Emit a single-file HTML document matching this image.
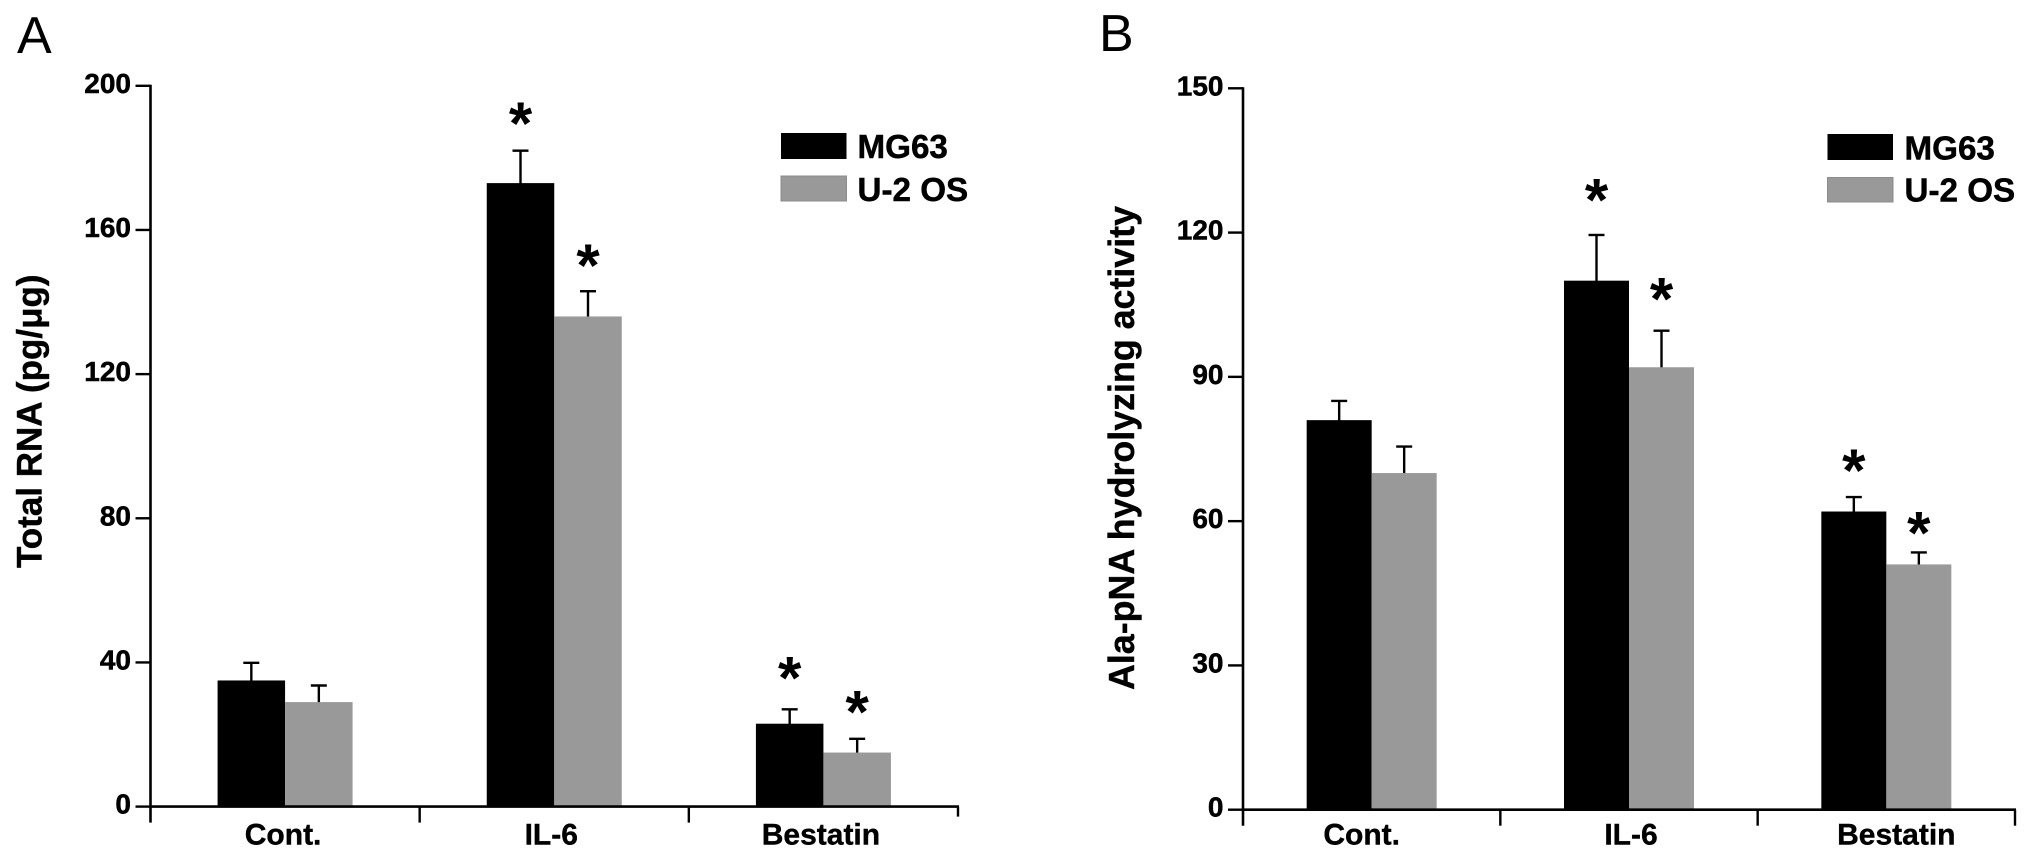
<!DOCTYPE html>
<html lang="en">
<head>
<meta charset="utf-8">
<title>Total RNA and Ala-pNA hydrolyzing activity</title>
<style>
html,body{margin:0;padding:0;background:#fff;width:2030px;height:859px;overflow:hidden}
svg{display:block}
text{font-family:"Liberation Sans",Arial,sans-serif;fill:#000}
.b{font-weight:700;stroke:#000;stroke-width:.4px}
.tick{font-size:28px;font-weight:700;text-anchor:end;stroke:#000;stroke-width:.5px}
.cat{font-size:30px;font-weight:700;text-anchor:middle;stroke:#000;stroke-width:.4px}
.leg{font-size:33.2px;font-weight:700;stroke:#000;stroke-width:.5px}
.star{font-size:60px;font-weight:700;text-anchor:middle}
.ltr{font-size:52px}
</style>
</head>
<body>
<svg id="fig" width="2030" height="859" viewBox="0 0 2030 859" xmlns="http://www.w3.org/2000/svg">
  <rect width="2030" height="859" fill="#fff"/>
  <text class="ltr" x="17" y="53">A</text>
  <text class="ltr" x="1099" y="51">B</text>
  <text class="b" font-size="35" transform="translate(41.5 568) rotate(-90)">Total RNA (pg/μg)</text>
  <text class="b" font-size="35.8" transform="translate(1134 690) rotate(-90)">Ala-pNA hydrolyzing activity</text>

  <g>
    <rect x="781" y="133" width="65.5" height="26" fill="#000"/>
    <text class="leg" x="857.5" y="158">MG63</text>
    <rect x="781" y="176" width="65.5" height="25" fill="#999" stroke="#8c8c8c"/>
    <text class="leg" x="857.5" y="201">U-2 OS</text>
  </g>
  <g>
    <rect x="1827.5" y="134" width="65.5" height="26" fill="#000"/>
    <text class="leg" x="1904.5" y="159.5">MG63</text>
    <rect x="1827.5" y="177.5" width="65.5" height="24.5" fill="#999" stroke="#8c8c8c"/>
    <text class="leg" x="1904.5" y="201.5">U-2 OS</text>
  </g>
</svg>
<script>
// Shared categories
const categories = ["Cont.", "IL-6", "Bestatin"];

// Panel A: Total RNA (pg/ug)
const aTicks = [0, 40, 80, 120, 160, 200];
const aMg63 = [35, 173, 23];
const aMg63Err = [4.9, 9, 4];
const aMg63Star = [null, 9.6, 10.8];
const aU2os = [29, 136, 15];
const aU2osErr = [4.6, 7, 3.8];
const aU2osStar = [null, 9.2, 9.5];

// Panel B: Ala-pNA hydrolyzing activity
const bTicks = [0, 30, 60, 90, 120, 150];
const bMg63 = [81, 110, 62];
const bMg63Err = [4, 9.5, 3];
const bMg63Star = [null, 8.8, 7.1];
const bU2os = [70, 92, 51];
const bU2osErr = [5.5, 7.6, 2.5];
const bU2osStar = [null, 8.1, 5.6];

const NS = "http://www.w3.org/2000/svg";
const fig = document.getElementById("fig");

function mk(parent, tag, props, txt) {
  const n = document.createElementNS(NS, tag);
  for (const k in props) n.setAttribute(k, props[k]);
  if (txt !== undefined) n.textContent = txt;
  parent.appendChild(n);
  return n;
}

function drawPanel(p) {
  const maxV = p.ticks[p.ticks.length - 1];
  const yOf = v => p.y0 - (v / maxV) * (p.y0 - p.yTop);
  const band = (p.x1 - p.x0) / categories.length;
  const centerOf = i => p.x0 + band * (i + 0.5);

  const g = mk(fig, "g", {});
  
  

  // bars, error bars, significance stars
  p.series.forEach((s, si) => {
    categories.forEach((c, i) => {
      const left = centerOf(i) + (si - 1) * p.barW;
      const cx = left + p.barW / 2;
      const top = yOf(s.values[i]);
      const capY = yOf(s.values[i] + s.errs[i]);

      const stem = mk(g, "line", {x1: cx, x2: cx, y1: capY, y2: top + 2, stroke: "#000", "stroke-width": 2.4});
      
      

      const cap = mk(g, "line", {x1: cx - 8, x2: cx + 8, y1: capY, y2: capY, stroke: "#000", "stroke-width": 2.4});
      
      

      const bar = mk(g, "rect", {x: left, y: top, width: p.barW, height: p.y0 - top, fill: s.fill});
      
      

      if (s.stars[i] !== null) {
        const sy = yOf(s.values[i] + s.errs[i] + s.stars[i]);
        const star = mk(g, "text", {class: "star", x: cx, y: sy + 28}, "*");
        
        
      }
    });
  });

  // y axis
  const yAxis = mk(g, "line", {x1: p.x0, x2: p.x0, y1: p.yTop - 1, y2: p.y0 + 16, stroke: "#000", "stroke-width": 2.6});
  
  

  p.ticks.forEach(t => {
    const y = yOf(t);
    const tk = mk(g, "line", {x1: p.x0 - 15, x2: p.x0, y1: y, y2: y, stroke: "#000", "stroke-width": 2.4});
    
    

    const lb = mk(g, "text", {class: "tick", x: p.x0 - 19.5, y: y + 7}, String(t));
    
    
  });

  // x axis
  const xAxis = mk(g, "line", {x1: p.x0, x2: p.x1 + 1, y1: p.y0, y2: p.y0, stroke: "#000", "stroke-width": 2.6});
  
  

  for (let i = 1; i <= categories.length; i++) {
    const x = p.x0 + band * i;
    const xt = mk(g, "line", {x1: x, x2: x, y1: p.y0, y2: p.y0 + (i === categories.length ? p.lastTick : 16), stroke: "#000", "stroke-width": 2.4});
    
    
  }

  categories.forEach((c, i) => {
    const lb = mk(g, "text", {class: "cat", x: centerOf(i) + p.labelNudge[i], y: p.labelY}, c);
    
    
  });
}

drawPanel({
  id: "panel-a", ticks: aTicks, x0: 150.5, x1: 958, y0: 806.6, yTop: 85.8,
  barW: 67.5, lastTick: 10, labelNudge: [-2, -3, -2.5], labelY: 844.5,
  series: [
    {key: "mg63", fill: "#000", values: aMg63, errs: aMg63Err, stars: aMg63Star},
    {key: "u2os", fill: "#999", values: aU2os, errs: aU2osErr, stars: aU2osStar}
  ]
});

drawPanel({
  id: "panel-b", ticks: bTicks, x0: 1243, x1: 2015, y0: 809.7, yTop: 88.3,
  barW: 65, lastTick: 16, labelNudge: [-10, 2, 10], labelY: 844.5,
  series: [
    {key: "mg63", fill: "#000", values: bMg63, errs: bMg63Err, stars: bMg63Star},
    {key: "u2os", fill: "#999", values: bU2os, errs: bU2osErr, stars: bU2osStar}
  ]
});
</script>
</body>
</html>
